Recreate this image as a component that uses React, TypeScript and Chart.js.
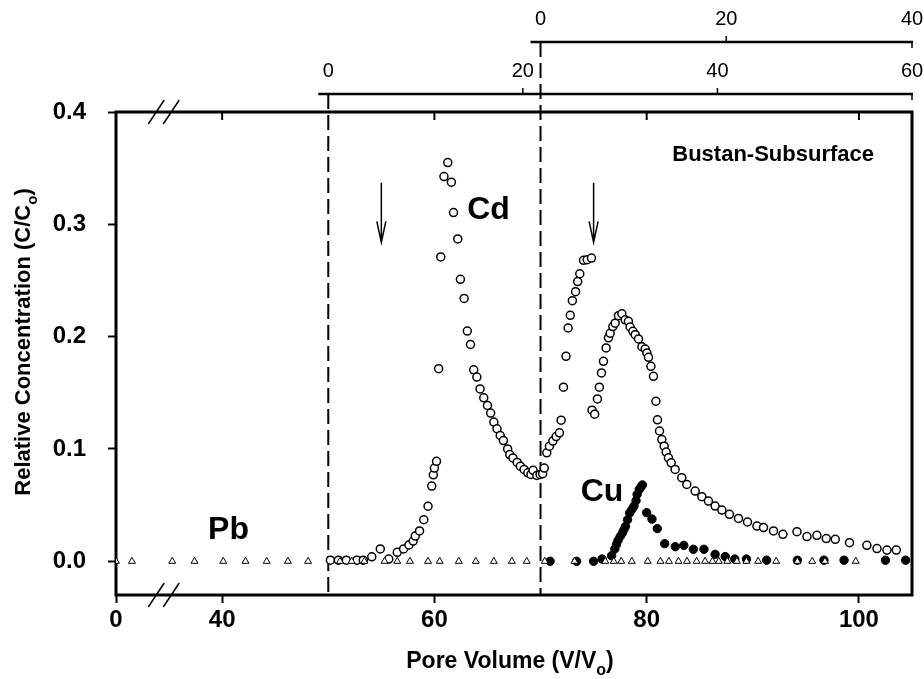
import React, { useEffect, useRef } from 'react';
import { Chart, registerables } from 'chart.js';

Chart.register(...registerables);

// Pore volume axis is broken: PV 0 is drawn at the break position (30).
const AXIS_BREAK = 30;
const PV_MAX = 105;
const X_TICKS = [30, 40, 60, 80, 100];
const Y_TICKS = [0, 0.1, 0.2, 0.3, 0.4];

// Secondary pore-volume scales along the top (stage 2 starts at PV 50, stage 3 at PV 70)
const TOP1_START_PV = 50;
const TOP1_TICKS = [0, 20, 40, 60];
const TOP2_START_PV = 70;
const TOP2_TICKS = [0, 20, 40];

// Arrows marking the solution changes
const ARROW_PV = [55, 75];

// Pb (open triangles)
const PB_PV = [
  30, 31.5, 35.3, 37.4, 40.1, 42.2, 44.2, 46.2, 48.1, 51.1, 52.2, 53.4, 55.3, 56.5,
  57.7, 59.4, 60.5, 62.3, 63.9, 65.6, 67.3, 68.7, 70.4, 73.2, 76.1, 76.9, 77.6, 78.6,
  80.1, 81.3, 82.1, 83.0, 83.8, 84.7, 85.5, 86.2, 86.8, 87.6, 88.5, 89.4, 90.5, 92.2,
  94.2, 95.6, 96.8, 99.7,
];
const PB_C = [
  0, 0, 0, 0, 0, 0, 0, 0, 0, 0, 0, 0, 0, 0,
  0, 0, 0, 0, 0, 0, 0, 0, 0, 0, 0, 0, 0, 0,
  0, 0, 0, 0, 0, 0, 0, 0, 0, 0, 0, 0, 0, 0,
  0, 0, 0, 0,
];

// Cd (open circles)
const CD_PV = [
  50.2, 50.95, 51.7, 52.7, 53.3, 54.1, 54.9, 55.7, 56.5, 57.1, 57.6, 58.0, 58.2, 58.6,
  59.0, 59.4, 59.75, 59.9, 60.0, 60.2, 60.4, 60.6, 60.9, 61.26, 61.6, 61.8, 62.2, 62.45,
  62.8, 63.1, 63.4, 63.7, 64.0, 64.3, 64.65, 65.0, 65.3, 65.6, 65.9, 66.2, 66.5, 66.9,
  67.1, 67.4, 67.8, 68.1, 68.45, 68.8, 69.1, 69.3, 69.65, 69.96, 70.2, 70.35, 70.59, 70.84,
  71.16, 71.47, 71.78, 71.94, 72.16, 72.4, 72.6, 72.8, 73.0, 73.3, 73.5, 73.7, 74.05, 74.4,
  74.8, 74.85, 75.1, 75.36, 75.54, 75.74, 75.93, 76.18, 76.4, 76.56, 76.81, 77.03, 77.34, 77.66,
  77.97, 78.28, 78.44, 78.7, 78.92, 79.23, 79.55, 79.86, 80.02, 80.17, 80.4, 80.64, 80.87, 81.02,
  81.21, 81.43, 81.65, 81.84, 82.05, 82.31, 82.68, 83.31, 83.78, 84.57, 85.2, 85.82, 86.45, 87.09,
  87.8, 88.65, 89.5, 90.39, 91.01, 91.95, 92.84, 94.16, 95.1, 96.04, 96.92, 97.77, 99.11, 100.75,
  101.7, 102.64, 103.52,
];
const CD_C = [
  0.001, 0.001, 0.001, 0.001, 0.001, 0.004, 0.011, 0.002, 0.008, 0.011, 0.0145, 0.018, 0.0225, 0.027,
  0.037, 0.049, 0.067, 0.077, 0.083, 0.089, 0.1715, 0.271, 0.3425, 0.355, 0.3375, 0.3105, 0.287, 0.251,
  0.234, 0.205, 0.193, 0.1705, 0.164, 0.1535, 0.1455, 0.1387, 0.132, 0.124, 0.118, 0.112, 0.1075, 0.1,
  0.095, 0.092, 0.088, 0.0847, 0.0818, 0.0788, 0.0773, 0.081, 0.0764, 0.0773, 0.078, 0.083, 0.0966, 0.1025,
  0.107, 0.111, 0.1144, 0.1256, 0.155, 0.1825, 0.2077, 0.219, 0.232, 0.24, 0.249, 0.256, 0.268, 0.2685,
  0.27, 0.1345, 0.131, 0.1446, 0.155, 0.1677, 0.178, 0.19, 0.199, 0.203, 0.209, 0.212, 0.2187, 0.2204,
  0.215, 0.2136, 0.2086, 0.2047, 0.2018, 0.198, 0.191, 0.189, 0.1855, 0.1816, 0.1736, 0.1647, 0.1425, 0.126,
  0.116, 0.1084, 0.1025, 0.0972, 0.0921, 0.0877, 0.0818, 0.0744, 0.0684, 0.0625, 0.0575, 0.0536, 0.0492, 0.0456,
  0.0418, 0.0382, 0.035, 0.0314, 0.03, 0.027, 0.024, 0.0264, 0.022, 0.0231, 0.0202, 0.0196, 0.0166, 0.0142,
  0.0113, 0.01, 0.01,
];

// Cu (filled circles)
const CU_PV = [
  70.9, 73.4, 75.0, 75.8, 76.7, 77.0, 77.15, 77.3, 77.5, 77.7, 77.85, 78.0, 78.2, 78.4,
  78.6, 78.8, 79.0, 79.1, 79.3, 79.45, 79.6, 80.0, 80.5, 81.0, 81.7, 82.7, 83.5, 84.4,
  85.4, 86.45, 87.4, 88.3, 89.4, 91.3, 94.2, 96.7, 98.6, 102.5, 104.4,
];
const CU_C = [
  0, 0, 0, 0.002, 0.005, 0.011, 0.015, 0.0185, 0.022, 0.025, 0.028, 0.031, 0.037, 0.043,
  0.046, 0.049, 0.054, 0.0595, 0.064, 0.066, 0.068, 0.0433, 0.0376, 0.0291, 0.0157, 0.013, 0.0142, 0.0107,
  0.0107, 0.0062, 0.0042, 0.002, 0.002, 0.001, 0.001, 0.001, 0.001, 0.001, 0.001,
];

const FONT = '"Liberation Sans", Arial, Helvetica, sans-serif';

type Part = { text: string; sub?: boolean };

function drawParts(ctx: CanvasRenderingContext2D, parts: Part[], size: number, subSize: number, subDrop: number) {
  const mainFont = `bold ${size}px ${FONT}`;
  const subFont = `bold ${subSize}px ${FONT}`;
  let total = 0;
  const widths = parts.map((p) => {
    ctx.font = p.sub ? subFont : mainFont;
    const w = ctx.measureText(p.text).width;
    total += w;
    return w;
  });
  let x = -total / 2;
  ctx.textAlign = 'left';
  ctx.textBaseline = 'alphabetic';
  parts.forEach((p, i) => {
    ctx.font = p.sub ? subFont : mainFont;
    ctx.fillText(p.text, x, p.sub ? subDrop : 0);
    x += widths[i];
  });
}

const decor = {
  id: 'decor',
  beforeDatasetsDraw(chart: any) {
    const { ctx, chartArea: a, scales } = chart;
    const x = scales.x;
    ctx.save();
    // frame
    ctx.strokeStyle = '#000';
    ctx.lineWidth = 3;
    ctx.strokeRect(a.left, a.top, a.right - a.left, a.bottom - a.top);

    // inward ticks along the top edge
    ctx.lineWidth = 2;
    X_TICKS.filter((v) => v !== AXIS_BREAK).forEach((v) => {
      const px = x.getPixelForValue(v);
      ctx.beginPath();
      ctx.moveTo(px, a.top);
      ctx.lineTo(px, a.top + 8);
      ctx.stroke();
    });

    // dashed stage boundaries, running up to their own top scales
    ctx.setLineDash([15, 6]);
    ctx.lineWidth = 2;
    const stages = [
      { pv: TOP1_START_PV, y: 94 },
      { pv: TOP2_START_PV, y: 42 },
    ];
    stages.forEach((s) => {
      const px = x.getPixelForValue(s.pv);
      ctx.beginPath();
      ctx.moveTo(px, s.y);
      ctx.lineTo(px, a.bottom);
      ctx.stroke();
    });
    ctx.setLineDash([]);
    ctx.restore();
  },
  afterDraw(chart: any) {
    const { ctx, chartArea: a, scales } = chart;
    const x = scales.x;
    const y = scales.y;
    ctx.save();
    ctx.strokeStyle = '#000';
    ctx.fillStyle = '#000';

    // axis break marks on the top and bottom edges
    const bx = x.getPixelForValue(34.5);
    ctx.lineWidth = 1.5;
    [a.top, a.bottom].forEach((ey) => {
      [-7.5, 7.5].forEach((dx) => {
        ctx.beginPath();
        ctx.moveTo(bx + dx - 8, ey + 12);
        ctx.lineTo(bx + dx + 8, ey - 12);
        ctx.stroke();
      });
    });

    // top pore-volume scales
    const topAxis = (scale: any, ticks: number[], lineY: number, labelY: number) => {
      const x0 = scale.getPixelForValue(ticks[0]) - 10;
      const x1 = scale.getPixelForValue(ticks[ticks.length - 1]);
      ctx.lineWidth = 2.5;
      ctx.beginPath();
      ctx.moveTo(x0, lineY);
      ctx.lineTo(x1 + 1, lineY);
      ctx.stroke();
      ctx.lineWidth = 1.5;
      ctx.font = `20px ${FONT}`;
      ctx.textAlign = 'center';
      ctx.textBaseline = 'middle';
      ticks.forEach((t, i) => {
        const px = scale.getPixelForValue(t);
        if (i > 0) {
          ctx.beginPath();
          ctx.moveTo(px, lineY);
          ctx.lineTo(px, i === ticks.length - 1 ? lineY + 6 : lineY - 6);
          ctx.stroke();
        }
        ctx.fillText(String(t), px, labelY);
      });
    };
    topAxis(scales.xTop1, TOP1_TICKS, 94, 71);
    topAxis(scales.xTop2, TOP2_TICKS, 42, 19);

    // arrows
    ctx.lineWidth = 1.5;
    ARROW_PV.forEach((pv) => {
      const px = x.getPixelForValue(pv);
      const y0 = y.getPixelForValue(0.337);
      const y1 = y.getPixelForValue(0.284);
      ctx.beginPath();
      ctx.moveTo(px, y0);
      ctx.lineTo(px, y1);
      ctx.moveTo(px - 4.5, y1 - 21);
      ctx.lineTo(px, y1);
      ctx.lineTo(px + 4.5, y1 - 21);
      ctx.stroke();
    });

    // series labels
    ctx.textAlign = 'center';
    ctx.textBaseline = 'middle';
    ctx.font = `bold 32px ${FONT}`;
    ctx.fillText('Pb', x.getPixelForValue(40.6), y.getPixelForValue(0.028));
    ctx.fillText('Cd', x.getPixelForValue(65.1), y.getPixelForValue(0.313));
    ctx.fillText('Cu', x.getPixelForValue(75.8), y.getPixelForValue(0.0615));

    ctx.font = `bold 22px ${FONT}`;
    ctx.textAlign = 'right';
    ctx.fillText('Bustan-Subsurface', a.right - 38, a.top + 43);

    // axis titles with subscripts
    ctx.save();
    ctx.translate((a.left + a.right) / 2 - 4, 668);
    drawParts(ctx, [{ text: 'Pore Volume (V/V' }, { text: 'o', sub: true }, { text: ')' }], 23, 16, 7);
    ctx.restore();

    ctx.save();
    ctx.translate(30, 342);
    ctx.rotate(-Math.PI / 2);
    drawParts(
      ctx,
      [{ text: 'Relative Concentration (C/C' }, { text: 'o', sub: true }, { text: ')' }],
      22,
      15,
      7,
    );
    ctx.restore();

    ctx.restore();
  },
};

export default function App() {
  const ref = useRef<HTMLCanvasElement | null>(null);

  useEffect(() => {
    if (!ref.current) return;
    const toPoints = (xs: number[], ys: number[]) => xs.map((v, i) => ({ x: v, y: ys[i] }));
    const tickFont = { family: FONT, size: 24, weight: 'bold' as const };
    const chart = new Chart(ref.current, {
      type: 'scatter',
      data: {
        datasets: [
          {
            label: 'Pb',
            data: toPoints(PB_PV, PB_C),
            pointStyle: 'triangle',
            pointRadius: 4,
            borderWidth: 1,
            borderColor: '#000',
            backgroundColor: '#fff',
          },
          {
            label: 'Cu',
            data: toPoints(CU_PV, CU_C),
            pointStyle: 'circle',
            pointRadius: 4.2,
            borderWidth: 1,
            borderColor: '#000',
            backgroundColor: '#000',
          },
          {
            label: 'Cd',
            data: toPoints(CD_PV, CD_C),
            pointStyle: 'circle',
            pointRadius: 4,
            borderWidth: 1.5,
            borderColor: '#000',
            backgroundColor: '#fff',
          },
        ],
      },
      options: {
        responsive: false,
        animation: false,
        devicePixelRatio: 1,
        events: [],
        layout: { padding: { top: 112, right: 12, bottom: 0, left: 0 } },
        plugins: { legend: { display: false }, tooltip: { enabled: false } },
        scales: {
          x: {
            type: 'linear',
            position: 'bottom',
            min: AXIS_BREAK,
            max: PV_MAX,
            afterBuildTicks: (s: any) => {
              s.ticks = X_TICKS.map((v) => ({ value: v }));
            },
            afterFit: (s: any) => {
              s.height = 84;
            },
            ticks: {
              font: tickFont,
              color: '#000',
              padding: 3,
              maxRotation: 0,
              autoSkip: false,
              callback: (v: any) => (Number(v) === AXIS_BREAK ? '0' : String(v)),
            },
            grid: { drawOnChartArea: false, drawTicks: true, tickLength: 8, tickWidth: 2, color: '#000' },
            border: { display: false },
          },
          y: {
            type: 'linear',
            position: 'left',
            min: -0.03,
            max: 0.4,
            afterBuildTicks: (s: any) => {
              s.ticks = Y_TICKS.map((v) => ({ value: v }));
            },
            afterFit: (s: any) => {
              s.width = 116;
            },
            ticks: {
              font: tickFont,
              color: '#000',
              padding: 22,
              autoSkip: false,
              callback: (v: any) => Number(v).toFixed(1),
            },
            grid: { drawOnChartArea: false, drawTicks: true, tickLength: 8, tickWidth: 2, color: '#000' },
            border: { display: false },
          },
          xTop1: {
            type: 'linear',
            position: 'top',
            display: false,
            min: -(TOP1_START_PV - AXIS_BREAK) * (60 / (PV_MAX - TOP1_START_PV)),
            max: 60,
          },
          xTop2: {
            type: 'linear',
            position: 'top',
            display: false,
            min: -(TOP2_START_PV - AXIS_BREAK) * (40 / (PV_MAX - TOP2_START_PV)),
            max: 40,
          },
        },
      },
      plugins: [decor],
    });
    return () => chart.destroy();
  }, []);

  return (
    <div style={{ position: 'absolute', left: 0, top: 0, width: 924, height: 679, background: '#fff' }}>
      <canvas ref={ref} width={924} height={679} />
    </div>
  );
}
